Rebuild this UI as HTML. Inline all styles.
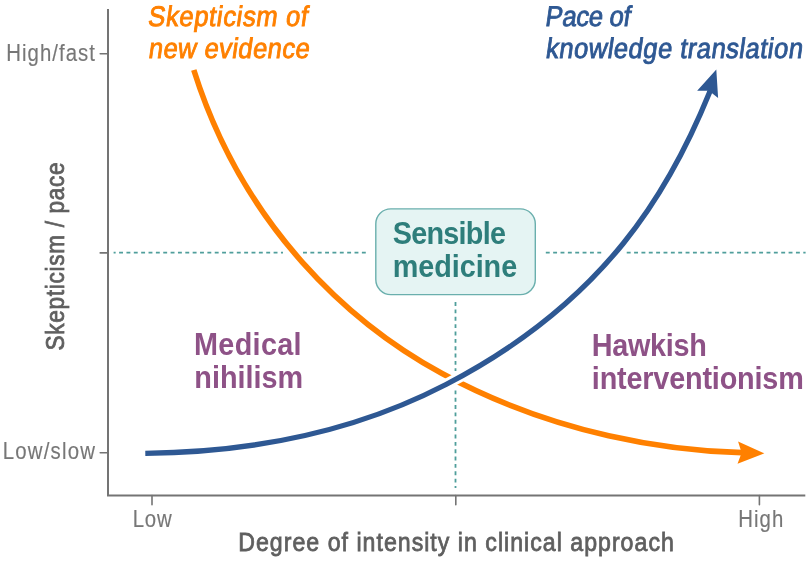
<!DOCTYPE html>
<html><head><meta charset="utf-8"><style>
html,body{margin:0;padding:0;background:#fff;width:810px;height:561px;overflow:hidden}
svg{display:block;will-change:transform}
text{font-family:"Liberation Sans",sans-serif}
</style></head><body>
<svg width="810" height="561" viewBox="0 0 810 561">
<rect width="810" height="561" fill="#fff"/>
<path d="M108 9 V495.5 H805.3" fill="none" stroke="#747474" stroke-width="2"/>
<path d="M100.2 53.7 H108 M100.2 252.9 H108 M100.2 452.8 H108 M152 495.5 V504.7 M455.8 495.5 V504.7 M759.4 495.5 V504.7" stroke="#747474" stroke-width="1.6" stroke-linecap="round"/>
<path d="M113.60 252.70H115.64M119.10 252.70H123.00M126.46 252.70H130.36M133.81 252.70H137.71M141.17 252.70H145.07M148.53 252.70H152.43M155.88 252.70H159.78M163.24 252.70H167.14M170.60 252.70H174.50M177.96 252.70H181.86M185.31 252.70H189.21M192.67 252.70H196.57M200.03 252.70H203.93M207.38 252.70H211.28M214.74 252.70H218.64M222.10 252.70H226.00M229.45 252.70H233.35M236.81 252.70H240.71M244.17 252.70H248.07M251.53 252.70H255.43M258.88 252.70H262.78M266.24 252.70H270.14M273.60 252.70H277.50M280.95 252.70H283.00M303.02 252.70H306.92M310.38 252.70H314.28M317.74 252.70H321.64M325.10 252.70H329.00M332.45 252.70H336.35M339.81 252.70H343.71M347.17 252.70H351.07M354.52 252.70H358.42M361.88 252.70H365.78M545.81 252.70H549.71M553.16 252.70H557.06M560.52 252.70H564.42M567.88 252.70H571.78M575.23 252.70H579.13M582.59 252.70H586.49M589.95 252.70H593.85M597.31 252.70H601.21M626.73 252.70H630.63M634.09 252.70H637.99M641.45 252.70H645.35M648.80 252.70H652.70M656.16 252.70H660.06M663.52 252.70H667.42M670.88 252.70H674.77M678.23 252.70H682.13M685.59 252.70H689.49M692.95 252.70H696.85M700.30 252.70H704.20M707.66 252.70H711.56M715.02 252.70H718.92M722.37 252.70H726.27M729.73 252.70H733.63M737.09 252.70H740.99M744.45 252.70H748.35M751.80 252.70H755.70M759.16 252.70H763.06M766.52 252.70H770.42M773.87 252.70H777.77M781.23 252.70H785.13M788.59 252.70H792.49M795.94 252.70H799.84M803.30 252.70H805.60" stroke="#4f9e9b" stroke-width="1.8"/>
<path d="M455.5 302.10V306.00M455.5 309.46V313.36M455.5 316.81V320.71M455.5 324.17V328.07M455.5 331.53V335.43M455.5 338.89V342.79M455.5 346.24V350.14M455.5 353.60V357.50M455.5 360.96V364.86M455.5 368.31V371.00M455.5 390.38V394.28M455.5 397.74V401.64M455.5 405.10V409.00M455.5 412.46V416.36M455.5 419.81V423.71M455.5 427.17V431.07M455.5 434.53V438.43M455.5 441.88V445.78M455.5 449.24V453.14M455.5 456.60V460.50M455.5 463.95V467.85M455.5 471.31V475.21M455.5 478.67V482.57M455.5 486.03V488.10" stroke="#4f9e9b" stroke-width="1.8"/>
<rect x="375.8" y="208.9" width="159.5" height="85.7" rx="15" fill="#e5f4f3" stroke="#6aafad" stroke-width="1.4"/>
<path d="M193.80 70.00 C243.34 227.53 351.16 324.15 442.08 373.47 C556.75 435.68 671.59 450.93 742.00 452.65 L750 452.85" fill="none" stroke="#ff8000" stroke-width="5.6"/>
<path d="M764.30 453.30 L737.54 463.75 L741.61 452.74 L738.08 441.55 Z" fill="#ff8000"/>
<path d="M145.30 453.30 C262.91 452.12 360.24 428.97 445.98 384.50 C607.10 300.92 670.66 188.05 709.50 92.50" fill="none" stroke="#fff" stroke-width="11"/>
<path d="M145.30 453.30 C262.91 452.12 360.24 428.97 445.98 384.50 C607.10 300.92 670.66 188.05 709.50 92.50 L712.1 84.9" fill="none" stroke="#2e5893" stroke-width="5.3"/>
<path d="M716.30 69.40 L718.12 98.07 L708.88 90.85 L697.15 90.81 Z" fill="#2e5893"/>
<text transform="translate(147.25 26.20) scale(0.9 1) skewX(-9)" font-size="28.4" font-weight="normal" font-style="normal" fill="#ff8000" letter-spacing="0.722" stroke="#ff8000" stroke-width="0.9">Skepticism of</text>
<text transform="translate(147.75 57.80) scale(0.9 1) skewX(-9)" font-size="28.4" font-weight="normal" font-style="normal" fill="#ff8000" letter-spacing="0.467" stroke="#ff8000" stroke-width="0.9">new evidence</text>
<text transform="translate(544.62 26.20) scale(0.9 1) skewX(-9)" font-size="28.4" font-weight="normal" font-style="normal" fill="#2e5893" letter-spacing="-0.301" stroke="#2e5893" stroke-width="0.9">Pace of</text>
<text transform="translate(545.08 57.50) scale(0.9 1) skewX(-9)" font-size="28.4" font-weight="normal" font-style="normal" fill="#2e5893" letter-spacing="0.535" stroke="#2e5893" stroke-width="0.9">knowledge translation</text>
<text transform="translate(392.77 244.00) scale(0.93 1) skewX(0)" font-size="31" font-weight="bold" font-style="normal" fill="#2e7e7b" letter-spacing="-0.816">Sensible</text>
<text transform="translate(392.64 277.20) scale(0.93 1) skewX(0)" font-size="31" font-weight="bold" font-style="normal" fill="#2e7e7b" letter-spacing="-0.061">medicine</text>
<text transform="translate(194.04 355.20) scale(0.93 1) skewX(0)" font-size="31" font-weight="bold" font-style="normal" fill="#8e5287" letter-spacing="0.328">Medical</text>
<text transform="translate(194.34 387.60) scale(0.93 1) skewX(0)" font-size="31" font-weight="bold" font-style="normal" fill="#8e5287" letter-spacing="-0.019">nihilism</text>
<text transform="translate(591.84 355.50) scale(0.93 1) skewX(0)" font-size="31" font-weight="bold" font-style="normal" fill="#8e5287" letter-spacing="-0.351">Hawkish</text>
<text transform="translate(591.84 388.70) scale(0.93 1) skewX(0)" font-size="31" font-weight="bold" font-style="normal" fill="#8e5287" letter-spacing="-0.200">interventionism</text>
<text transform="translate(6.20 60.90) scale(0.86 1) skewX(0)" font-size="23.7" font-weight="normal" font-style="normal" fill="#777777" letter-spacing="1.220" stroke="#777777" stroke-width="0.15">High/fast</text>
<text transform="translate(2.79 459.10) scale(0.86 1) skewX(0)" font-size="23.7" font-weight="normal" font-style="normal" fill="#777777" letter-spacing="1.388" stroke="#777777" stroke-width="0.15">Low/slow</text>
<text transform="translate(132.80 527.20) scale(0.86 1) skewX(0)" font-size="23.7" font-weight="normal" font-style="normal" fill="#777777" letter-spacing="0.860" stroke="#777777" stroke-width="0.15">Low</text>
<text transform="translate(738.29 527.20) scale(0.86 1) skewX(0)" font-size="23.7" font-weight="normal" font-style="normal" fill="#777777" letter-spacing="1.184" stroke="#777777" stroke-width="0.15">High</text>
<text transform="translate(238.26 551.10) scale(0.88 1) skewX(0)" font-size="26.3" font-weight="normal" font-style="normal" fill="#5f5f5f" letter-spacing="1.149" stroke="#5f5f5f" stroke-width="0.8">Degree of intensity in clinical approach</text>
<g transform="rotate(-90)"><text transform="translate(-350.44 64.30) scale(0.86 1) skewX(0)" font-size="26.3" font-weight="normal" font-style="normal" fill="#5f5f5f" letter-spacing="0.793" stroke="#5f5f5f" stroke-width="0.8">Skepticism / pace</text></g>
</svg>
</body></html>
